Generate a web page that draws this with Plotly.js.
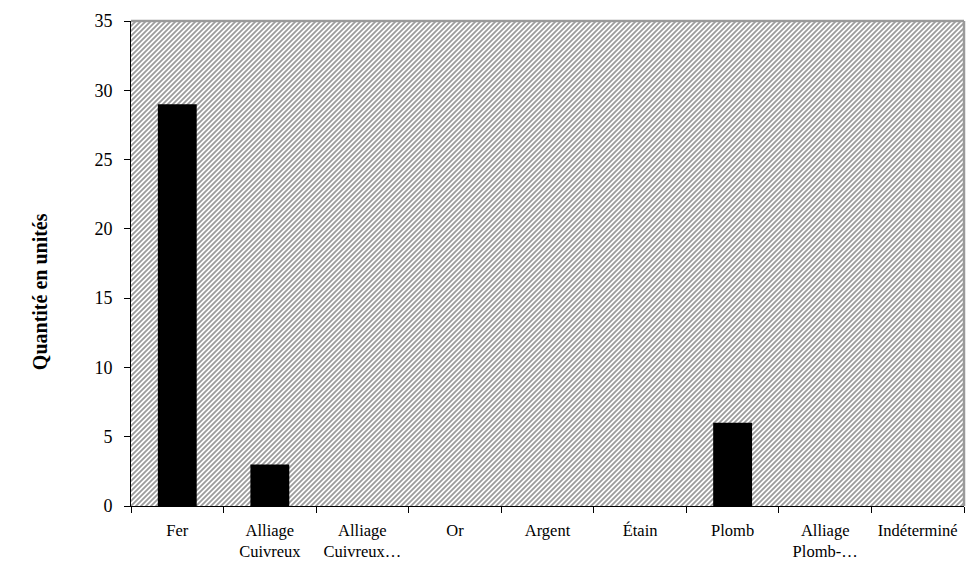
<!DOCTYPE html>
<html>
<head>
<meta charset="utf-8">
<script src="https://cdn.plot.ly/plotly-3.0.1.min.js"></script>
<style>html,body{margin:0;padding:0;background:#fff;}#chart{width:972px;height:563px;}</style>
</head>
<body>
<div id="chart"></div>
<script>
const categories = ["Fer", "Alliage<br>Cuivreux", "Alliage<br>Cuivreux…", "Or", "Argent", "Étain", "Plomb", "Alliage<br>Plomb-…", "Indéterminé"];
const quantities = [29, 3, 0, 0, 0, 0, 6, 0, 0];
const yTickValues = [0, 5, 10, 15, 20, 25, 30, 35];
const yTitle = "Quantité en unités";

const W = 833, H = 485;
const svg = `<svg xmlns="http://www.w3.org/2000/svg" width="${W}" height="${H}">` +
  `<defs><pattern id="p" patternUnits="userSpaceOnUse" width="5" height="5">` +
  `<rect width="5" height="5" fill="#ffffff"/>` +
  `<path d="M-1.25,1.25 L1.25,-1.25 M0,5 L5,0 M3.75,6.25 L6.25,3.75" stroke="#9c9c9c" stroke-width="1.8"/>` +
  `</pattern></defs><rect width="${W}" height="${H}" fill="url(#p)"/></svg>`;
const bgSrc = "data:image/svg+xml;base64," + btoa(unescape(encodeURIComponent(svg)));

const font = "'Liberation Serif', 'DejaVu Serif', serif";

Plotly.newPlot("chart", [{
  type: "bar",
  x: categories,
  y: quantities,
  marker: {color: "#000000", line: {width: 0}},
  width: 0.42,
  hoverinfo: "x+y"
}], {
  width: 972, height: 563,
  margin: {l: 131, r: 8, t: 21, b: 57},
  paper_bgcolor: "#ffffff",
  plot_bgcolor: "rgba(0,0,0,0)",
  showlegend: false,
  font: {family: font, size: 16, color: "#000"},
  images: [{
    source: bgSrc, xref: "paper", yref: "paper", x: 0, y: 1,
    sizex: 1, sizey: 1, sizing: "stretch", layer: "below", xanchor: "left", yanchor: "top"
  }],
  xaxis: {
    type: "category",
    showgrid: false,
    showline: true, linecolor: "#000", linewidth: 1,
    ticks: "outside", ticklen: 6, tickcolor: "#000",
    tickson: "boundaries",
    ticklabelstandoff: 9,
    tickfont: {family: font, size: 16.5, color: "#000"},
    fixedrange: true
  },
  yaxis: {
    range: [0, 35],
    tickvals: yTickValues,
    showgrid: false,
    zeroline: false,
    showline: true, linecolor: "#000", linewidth: 1,
    ticks: "outside", ticklen: 6, tickcolor: "#000",
    ticklabelstandoff: 8,
    tickfont: {family: font, size: 18, color: "#000"},
    automargin: false,
    fixedrange: true
  },
  annotations: [{
    text: "<b>" + yTitle + "</b>",
    xref: "paper", yref: "paper",
    x: -0.1092, y: 0.441,
    xanchor: "center", yanchor: "middle",
    textangle: -90, showarrow: false,
    font: {family: font, size: 20, color: "#000"}
  }],
  shapes: [
    {type: "line", xref: "paper", yref: "paper", x0: 0, x1: 1, y0: 1, y1: 1, line: {color: "#9a9a9a", width: 2.5}},
    {type: "line", xref: "paper", yref: "paper", x0: 1, x1: 1, y0: 0, y1: 1, line: {color: "#9a9a9a", width: 2.5}}
  ]
}, {displayModeBar: false, staticPlot: true});
</script>
</body>
</html>
